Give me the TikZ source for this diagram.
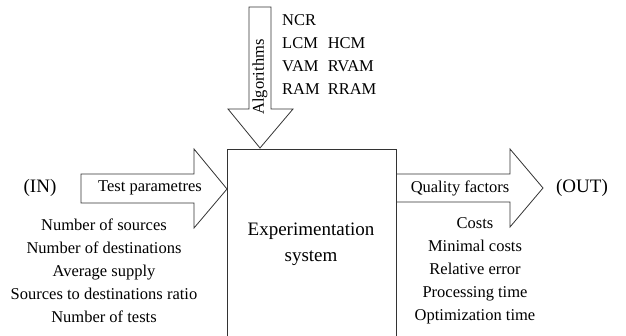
\documentclass[tikz,border=0pt]{standalone}
\usepackage{fontspec}
\setmainfont{Liberation Serif}
\usepackage{tikz}
\usetikzlibrary{calc}
\tikzset{
	blockline/.style={line width=0.8pt, color=black!80},
	smalltext/.style={font=\fontsize{16.5}{23}\selectfont, inner sep=0pt},
	bigtext/.style={font=\fontsize{19}{26}\selectfont, inner sep=0pt}
}

\begin{document}
\begin{tikzpicture}[x=1pt, y=-1pt]
			%%%%% START %%%%%
			
			\useasboundingbox (0, 0) rectangle (626, 335);
			\clip (0, 0) rectangle (626, 335);
			
			\draw[blockline] (227, 149) rectangle (396, 345);
			
			\draw[blockline] (249, 7) -- (271, 7) -- (271, 109) -- (293, 109) -- (260, 148) -- (228, 109) -- (249, 109) -- cycle;
			\draw[blockline] (81, 174) -- (194, 174) -- (194, 149) -- (227, 189) -- (194, 228) -- (194, 203) -- (81, 203) -- cycle;
			\draw[blockline] (396, 174) -- (510, 174) -- (510, 149) -- (543, 188) -- (510, 227) -- (510, 202) -- (396, 202);
			
			\node[smalltext, rotate=90] (algos) at (260, 77) {Algorithms};
			\node[smalltext, anchor=west] (algolist) at (282, 55) {\begin{tabular}{@{}l@{\hspace{8pt}}l@{}}NCR & \\ LCM & HCM \\ VAM & RVAM \\ RAM & RRAM\end{tabular}};
			
			\node[bigtext] (in) at (40, 188) {(IN)};
			\node[smalltext] (testpar) at (150, 188) {Test parametres};
			\node[smalltext] (quality) at (460, 188) {Quality factors};
			\node[bigtext] (out) at (582, 188) {(OUT)};
			
			\node[bigtext, align=center] (system) at (311, 244) {Experimentation\\system};
			
			\node[smalltext, align=center] (inlist) at (104, 271) {Number of sources\\Number of destinations\\Average supply\\Sources to destinations ratio\\Number of tests};
			\node[smalltext, align=center] (outlist) at (475, 271) {Costs\\Minimal costs\\Relative error\\Processing time\\Optimization time};
			
			%%%%% END %%%%%
		\end{tikzpicture}
\end{document}
